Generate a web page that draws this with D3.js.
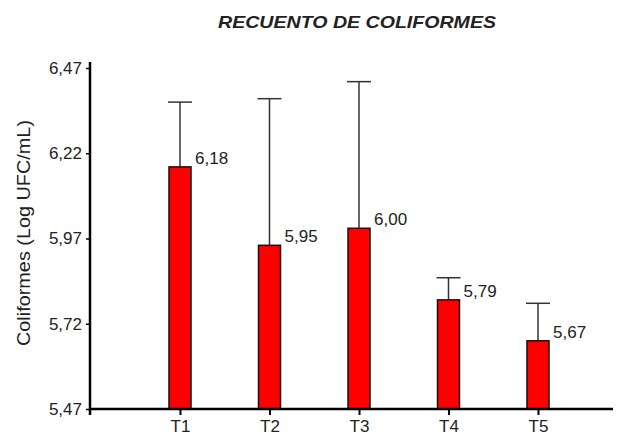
<!doctype html>
<html lang="es">
<head>
	<meta charset="UTF-8">
	<title>Recuento de coliformes</title>
	<script src="https://cdn.jsdelivr.net/npm/d3@7"></script>
	<style>
	body{ margin:0; background:#fff; }
	svg text{ font-family: "Liberation Sans", Arial, sans-serif; fill:#222; }
	</style>
</head>
<body>
<script>
var categories = ['T1', 'T2', 'T3', 'T4', 'T5'];
var means = [6.18, 5.95, 6.00, 5.79, 5.67];
var errors = [0.19, 0.43, 0.43, 0.065, 0.11];
var yTicks = [5.47, 5.72, 5.97, 6.22, 6.47];

var w = 620, h = 438;
var svg = d3.select('body').append('svg')
	.attr('width', w)
	.attr('height', h);

var y = d3.scaleLinear().domain([5.47, 6.47]).range([409, 68]);
var x = d3.scalePoint().domain(categories).range([180, 538]);
var barW = 22;
var fmt = function(v){ return d3.format('.2f')(v).replace('.', ','); };

// title
svg.append('text')
	.attr('x', 357).attr('y', 28)
	.attr('text-anchor', 'middle')
	.attr('textLength', 278)
	.attr('lengthAdjust', 'spacingAndGlyphs')
	.style('font-size', '17px')
	.style('font-weight', 'bold')
	.style('font-style', 'italic')
	.text('RECUENTO DE COLIFORMES');

// y label
svg.append('text')
	.attr('transform', 'translate(30,233) rotate(-90)')
	.attr('text-anchor', 'middle')
	.attr('textLength', 226)
	.attr('lengthAdjust', 'spacingAndGlyphs')
	.style('font-size', '18px')
	.text('Coliformes (Log UFC/mL)');

// error bars (drawn first so bars sit on top)
var err = svg.append('g').attr('stroke', '#333').attr('stroke-width', 1.5);
categories.forEach(function(c, i){
	var cx = x(c);
	err.append('line')
		.attr('x1', cx).attr('x2', cx)
		.attr('y1', y(means[i])).attr('y2', y(means[i] + errors[i]));
	err.append('line')
		.attr('x1', cx - barW/2 - 1).attr('x2', cx + barW/2 + 1)
		.attr('y1', y(means[i] + errors[i])).attr('y2', y(means[i] + errors[i]));
});

// bars
svg.selectAll('rect.bar')
	.data(means)
	.enter()
	.append('rect')
	.attr('class', 'bar')
	.attr('x', function(d, i){ return x(categories[i]) - barW/2; })
	.attr('y', function(d){ return y(d); })
	.attr('width', barW)
	.attr('height', function(d){ return y(5.47) - y(d); })
	.attr('fill', '#ff0000')
	.attr('stroke', '#111')
	.attr('stroke-width', 1.5);

// value labels
svg.selectAll('text.val')
	.data(means)
	.enter()
	.append('text')
	.attr('class', 'val')
	.attr('x', function(d, i){ return x(categories[i]) + barW/2 + 4; })
	.attr('y', function(d){ return y(d) - 3; })
	.style('font-size', '17px')
	.text(fmt);

// y axis
var yAxis = d3.axisLeft(y)
	.tickValues(yTicks)
	.tickSize(4)
	.tickPadding(4)
	.tickFormat(fmt);
var gy = svg.append('g')
	.attr('transform', 'translate(90,0)')
	.call(yAxis);
gy.select('.domain').remove();
gy.append('line')
	.attr('x1', 0).attr('x2', 0)
	.attr('y1', 62).attr('y2', 415)
	.attr('stroke', '#000').attr('stroke-width', 2.5);
gy.selectAll('.tick line').attr('stroke', '#000').attr('stroke-width', 1.5);
gy.selectAll('.tick text')
	.style('font-size', '17px')
	.attr('fill', '#222');

// x axis
var xAxis = d3.axisBottom(x).tickSize(6).tickPadding(5);
var gx = svg.append('g')
	.attr('transform', 'translate(0,409)')
	.call(xAxis);
gx.select('.domain').remove();
gx.append('line')
	.attr('x1', 89).attr('x2', 613)
	.attr('y1', 0).attr('y2', 0)
	.attr('stroke', '#000').attr('stroke-width', 2.5);
gx.selectAll('.tick line').attr('stroke', '#000').attr('stroke-width', 2);
gx.selectAll('.tick text')
	.style('font-size', '17px')
	.attr('fill', '#222');
</script>
</body>
</html>
